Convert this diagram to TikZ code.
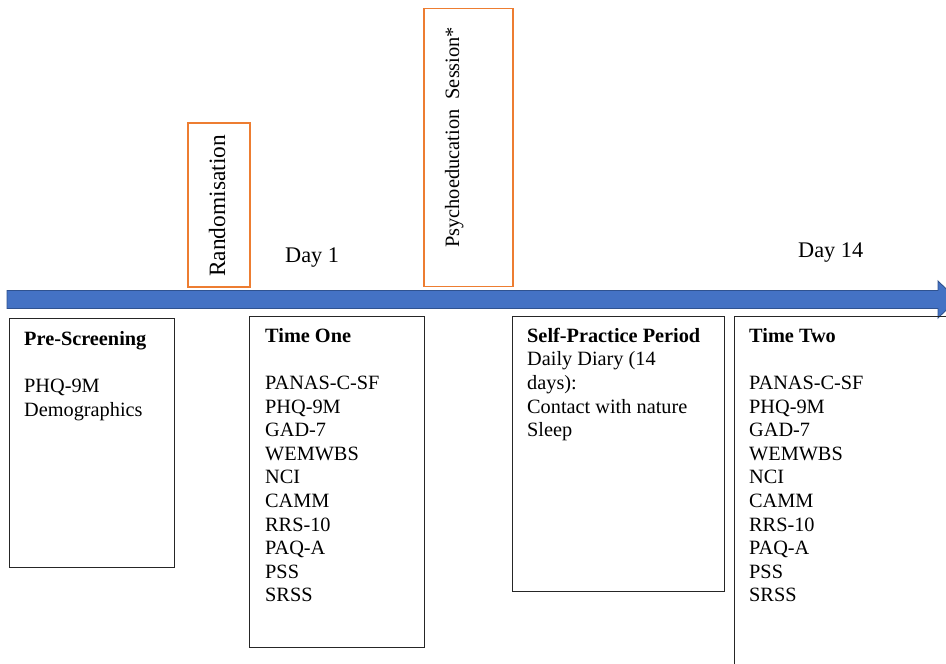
\documentclass[tikz,border=0pt]{standalone}
\usepackage{fontspec}
\setmainfont{Liberation Serif}
\definecolor{arrowblue}{HTML}{4472C4}
\definecolor{arrowedge}{HTML}{2F528F}
\definecolor{boxorange}{HTML}{ED7D31}
\begin{document}
\begin{tikzpicture}[x=1pt,y=-1pt,
  stagebox/.style={draw=black!85, line width=1.2pt, rectangle, anchor=north west, inner sep=0pt},
  eventbox/.style={draw=boxorange, line width=1.8pt, rectangle, anchor=north west, inner sep=0pt},
  boxtext/.style={anchor=north west, inner sep=0pt, align=left, font=\fontsize{20.3}{23.6}\selectfont},
  daylabel/.style={anchor=base west, inner sep=0pt, font=\fontsize{22.3}{26}\selectfont},
  vertlabel/.style={anchor=base west, inner sep=0pt, rotate=90}
]
\useasboundingbox (0,0) rectangle (946,664);
\clip (0,0) rectangle (946,664);

% timeline arrow
\filldraw[fill=arrowblue, draw=arrowedge, line width=0.9pt]
  (7,290.5) -- (938,290.5) -- (938,281) -- (957,299.5) -- (938,318) -- (938,308.5) -- (7,308.5) -- cycle;

% event boxes
\node[eventbox, minimum width=62, minimum height=164] (rand) at (187,122) {};
\node[eventbox, minimum width=89, minimum height=278] (psych) at (423,7.5) {};
\node[vertlabel, font=\fontsize{23.4}{26}\selectfont] (randtxt) at (225,277) {Randomisation};
\node[vertlabel, font=\fontsize{20.4}{24}\selectfont] (psychtxt) at (459,248) {Psychoeducation\ \ Session*};

% day labels
\node[daylabel] (day1) at (285,262) {Day 1};
\node[daylabel] (day14) at (798,257) {Day 14};

% stage boxes
\node[stagebox, minimum width=165, minimum height=249] (pre) at (9,318) {};
\node[stagebox, minimum width=175, minimum height=331] (t1) at (249,316) {};
\node[stagebox, minimum width=212, minimum height=275] (sp) at (512,316) {};
\node[stagebox, minimum width=240, minimum height=380] (t2) at (734,316) {};

% texts
\node[boxtext] (pretxt) at (24,328.5) {\strut\textbf{Pre-Screening}\\[\baselineskip]PHQ-9M\\Demographics};
\node[boxtext] (t1txt) at (265,325.5) {\strut\textbf{Time One}\\[\baselineskip]PANAS-C-SF\\PHQ-9M\\GAD-7\\WEMWBS\\NCI\\CAMM\\RRS-10\\PAQ-A\\PSS\\SRSS};
\node[boxtext] (sptxt) at (527,325.5) {\strut\textbf{Self-Practice Period}\\Daily Diary (14\\days):\\Contact with nature\\Sleep};
\node[boxtext] (t2txt) at (749,325.5) {\strut\textbf{Time Two}\\[\baselineskip]PANAS-C-SF\\PHQ-9M\\GAD-7\\WEMWBS\\NCI\\CAMM\\RRS-10\\PAQ-A\\PSS\\SRSS};
\end{tikzpicture}
\end{document}
